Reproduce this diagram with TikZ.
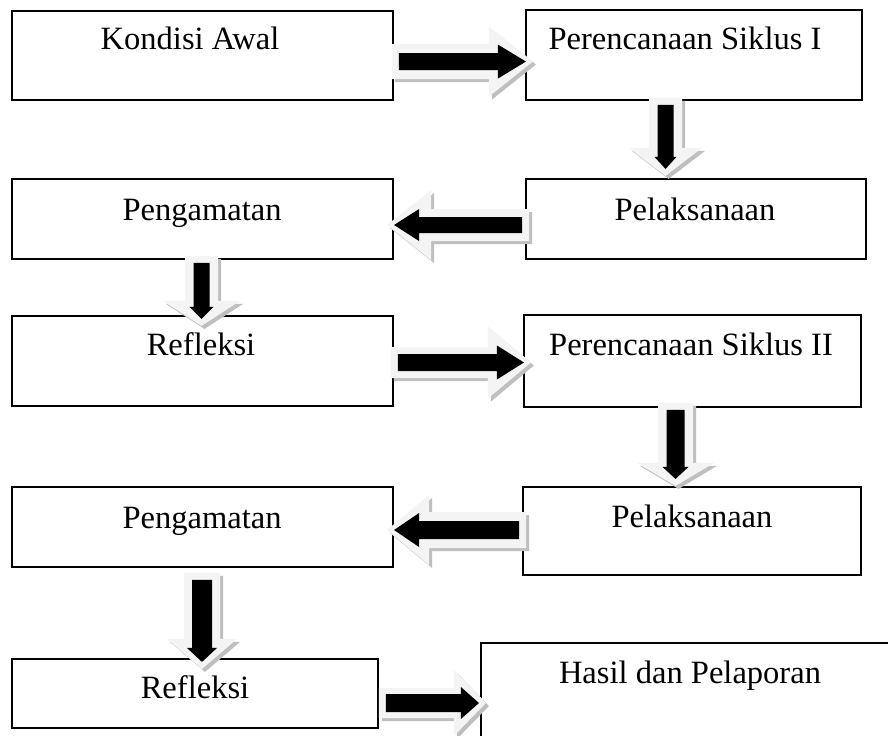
\documentclass[tikz,border=0pt]{standalone}
\usepackage{fontspec}
\setmainfont{Liberation Serif}
\usetikzlibrary{calc}
\tikzset{
  box/.style={draw=black, line width=1.4pt, rectangle, inner sep=0pt, fill=white},
  lbl/.style={anchor=base, inner sep=0pt, font=\fontsize{24.4}{28}\selectfont},
  arrowouter/.style={fill=gray!9, draw=none},
  arrowshadow/.style={fill=gray!50, draw=none},
  arrowinner/.style={fill=black, draw=none}
}
% #1 name, #2 x1, #3 y1, #4 x2, #5 y2 (pixel units, y downward)
\newcommand\mybox[5]{%
  \node[box, minimum width={(#4-#2)*0.75pt}, minimum height={(#5-#3)*0.75pt}]
    (#1) at ({(#2+#4)/2},{(#3+#5)/2}) {};}
% #1 base point, #2 angle, #3 L, #4 so, #5 ho, #6 Lo, #7 si, #8 hi, #9 Li
\newcommand\blockarrow[9]{%
  \begin{scope}[shift={#1}, shift={(3,3)}, rotate=#2]
    \fill[arrowshadow] (0,-#4) -- ({#3-#6},-#4) -- ({#3-#6},-#5) -- (#3,0)
      -- ({#3-#6},#5) -- ({#3-#6},#4) -- (0,#4) -- cycle;
  \end{scope}
  \begin{scope}[shift={#1}, rotate=#2]
    \fill[arrowouter] (0,-#4) -- ({#3-#6},-#4) -- ({#3-#6},-#5) -- (#3,0)
      -- ({#3-#6},#5) -- ({#3-#6},#4) -- (0,#4) -- cycle;
    \fill[arrowinner] (7,-#7) -- ({#3-7-#9},-#7) -- ({#3-7-#9},-#8) -- ({#3-7},0)
      -- ({#3-7-#9},#8) -- ({#3-7-#9},#7) -- (7,#7) -- cycle;
  \end{scope}}
\begin{document}
\begin{tikzpicture}[x=0.75pt, y=-0.75pt]
\useasboundingbox (0,0) rectangle (888,735);
\clip (0,0) rectangle (888,735);
\fill[white] (0,0) rectangle (888,735);
% boxes
\mybox{b1}{12}{11}{393}{100}
\mybox{b2}{526}{10}{862}{100}
\mybox{b3}{12}{179}{393}{259}
\mybox{b4}{526}{179}{866}{259}
\mybox{b5}{12}{316}{393}{406}
\mybox{b6}{524}{315}{861}{407}
\mybox{b7}{12}{487}{393}{567}
\mybox{b8}{523}{487}{861}{575}
\mybox{b9}{12}{659}{378}{728}
\mybox{b10}{481}{643}{1000}{800}
% arrows (connectors between boxes)
\blockarrow{($(b1.north east)+(-2,51.5)$)}{0}{141}{17.5}{35}{44}{8.5}{17}{28}
\blockarrow{($(b2.south)+(-28.5,-3)$)}{-90}{78}{16.5}{36.5}{28}{8}{11}{12}
\blockarrow{($(b4.west)+(4,6)$)}{180}{142}{16}{35}{44}{8}{16}{25}
\blockarrow{($(b3.south)+(-1,-4)$)}{-90}{70}{16.5}{38.5}{25}{8}{12}{12}
\blockarrow{($(b5.east)+(-3,1.5)$)}{0}{140}{15.5}{36}{43}{8.5}{17}{27}
\blockarrow{($(b6.south)+(-17,-5)$)}{-90}{83}{17.5}{38.5}{23}{9}{13}{12}
\blockarrow{($(b8.west)+(4,-1)$)}{180}{139}{18}{35}{42}{9}{17}{25}
\blockarrow{($(b7.south)+(-0.5,5)$)}{-90}{96}{18}{35}{30}{10}{15}{14}
\blockarrow{($(b9.east)+(0,9.5)$)}{0}{107}{15}{33}{32}{9}{16}{18}
% texts
\node[lbl] (t1) at (190,50) {Kondisi Awal};
\node[lbl] (t2) at (685,50) {Perencanaan Siklus I};
\node[lbl] (t3) at (202,220) {Pengamatan};
\node[lbl] (t4) at (695,220) {Pelaksanaan};
\node[lbl] (t5) at (201,355) {Refleksi};
\node[lbl] (t6) at (691,355) {Perencanaan Siklus II};
\node[lbl] (t7) at (202,528) {Pengamatan};
\node[lbl] (t8) at (692,527) {Pelaksanaan};
\node[lbl] (t9) at (195,698) {Refleksi};
\node[lbl] (t10) at (690,683) {Hasil dan Pelaporan};
\end{tikzpicture}
\end{document}
